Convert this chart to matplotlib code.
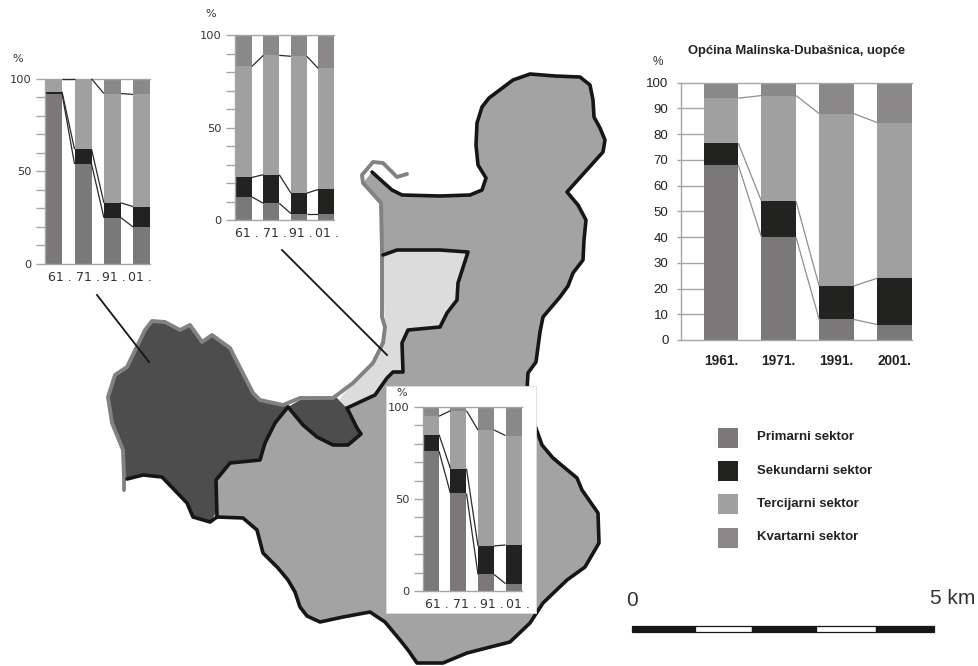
import matplotlib
matplotlib.use('Agg')
import matplotlib.pyplot as plt
from matplotlib.patches import Polygon, Rectangle

W, H = 979, 666

# chart data: top of each stacked band, in percent
years_short = ['61', '71', '91', '01']
years_long = ['1961.', '1971.', '1991.', '2001.']
sector_names = ['Primarni sektor', 'Sekundarni sektor', 'Tercijarni sektor', 'Kvartarni sektor']

total_primary = [68, 40, 8, 6]
total_secondary = [76.5, 54, 21, 24]
total_tertiary = [94, 95, 88, 84.5]

west_primary = [92, 54, 25, 20]
west_secondary = [93, 62, 33, 31]
west_tertiary = [100, 100, 92, 91.5]

mid_primary = [12.5, 9, 3.5, 3.5]
mid_secondary = [23, 24.5, 14.5, 16.5]
mid_tertiary = [83, 89, 88.5, 82]

east_primary = [76, 53, 9, 4]
east_secondary = [85, 66.5, 24.5, 25]
east_tertiary = [95, 98, 87.5, 84.5]

colors = ['#7a7878', '#222220', '#a0a0a0', '#8a8888']

# map outlines, traced in image pixels
north_coast = [(372, 172), (383, 182), (392, 190), (402, 195), (440, 196), (470, 195), (482, 190),
               (486, 178), (478, 165), (476, 145), (477, 123), (482, 107), (489, 98), (497, 92),
               (513, 80), (530, 74), (555, 76), (580, 77), (590, 85), (593, 100), (594, 117),
               (600, 128), (605, 140), (603, 152), (585, 172), (567, 192), (578, 205), (586, 220),
               (584, 240), (583, 260), (573, 273), (568, 286), (560, 297), (543, 317), (540, 332),
               (536, 362), (528, 373), (527, 390), (533, 420), (542, 445), (553, 458), (577, 478),
               (582, 490), (598, 513), (599, 543), (585, 567), (567, 580), (543, 603), (530, 623),
               (510, 642), (467, 653), (443, 663), (417, 663), (408, 650), (400, 640), (385, 622),
               (370, 612), (343, 617), (320, 622), (307, 616), (300, 607), (295, 592), (288, 580),
               (278, 568), (263, 553), (257, 530), (243, 518), (217, 517)]
west_boundary = [(217, 517), (216, 480), (230, 463), (260, 460), (265, 443), (275, 423), (288, 407)]
patch_boundary = [(288, 407), (303, 425), (317, 437), (333, 445), (348, 445), (361, 434), (357, 428),
                  (347, 408)]
light_boundary = [(347, 408), (375, 395), (387, 378), (393, 372), (403, 372), (402, 343), (408, 330),
                  (440, 327), (447, 313), (457, 300), (458, 283), (468, 252), (440, 250), (397, 250),
                  (383, 255)]
west_land = [(124, 477), (123, 450), (112, 423), (108, 397), (115, 375), (127, 367), (145, 330),
             (152, 321), (165, 322), (180, 330), (190, 325), (195, 332), (202, 342), (212, 335),
             (230, 348), (253, 393), (260, 400), (283, 405), (288, 407), (275, 423), (265, 443),
             (260, 460), (230, 463), (216, 480), (216, 513), (210, 522), (193, 517), (187, 503),
             (162, 477), (143, 475), (127, 479)]
west_south_coast = [(127, 479), (143, 475), (162, 477), (187, 503), (193, 517), (210, 522), (217, 517)]
patch_land = [(288, 407), (300, 400), (337, 398), (347, 408), (357, 428), (361, 434), (348, 445),
              (333, 445), (317, 437), (303, 425)]
light_land = [(339, 400), (353, 383), (373, 363), (385, 330), (382, 255), (397, 250), (440, 250),
              (468, 252), (458, 283), (457, 300), (447, 313), (440, 327), (408, 330), (402, 343),
              (403, 372), (393, 372), (387, 378), (375, 395), (347, 408)]
grey_coast = [(124, 490), (124, 477), (123, 450), (112, 423), (108, 397), (115, 375), (127, 367),
              (145, 330), (152, 321), (165, 322), (180, 330), (190, 325), (195, 332), (202, 342),
              (212, 335), (230, 348), (253, 393), (260, 400), (283, 405), (300, 398), (333, 398),
              (353, 383), (373, 363), (383, 343), (385, 327), (382, 317), (382, 250), (381, 203),
              (363, 183), (362, 175), (373, 162), (383, 163), (397, 177), (407, 174)]
leader_lines = [[(97, 295), (149, 362)], [(282, 250), (387, 355)]]
scale_edges = [632, 695, 752, 816, 876, 934]


def add_chart(fig, left, right, y100, y0, centers, bar_w, prim, sec, ter, labels, label_px=None):
    """stacked bars on their own axes, placed by image pixels"""
    big = label_px is None
    ax = fig.add_axes([left / W, 1 - y0 / H, (right - left) / W, (y0 - y100) / H])
    ax.patch.set_alpha(0)
    pitch = (centers[1] - centers[0]) / 1.0
    xs = [(c - centers[0]) / pitch for c in centers]
    w = bar_w / pitch
    ax.set_xlim((left - centers[0]) / pitch, (right - centers[0]) / pitch)
    ax.set_ylim(0, 100)

    bottoms = [0, 0, 0, 0]
    bands = [prim, sec, ter, [100, 100, 100, 100]]
    for band, col in zip(bands, colors):
        ax.bar(xs, [b - a for a, b in zip(bottoms, band)], w, bottom=bottoms, color=col, linewidth=0, zorder=2)
        bottoms = band

    # connectors between neighbouring bars
    line_col = '#8f8f8f' if big else '#2a2a2a'
    for band in bands[:3]:
        for i in range(3):
            ax.plot([xs[i] + w / 2, xs[i + 1] - w / 2], [band[i], band[i + 1]],
                    color=line_col, lw=0.9, zorder=3, solid_capstyle='butt', clip_on=False)

    for side in ['right']:
        ax.spines[side].set_visible(False)
    for side in ['left', 'top', 'bottom']:
        ax.spines[side].set_color('#a5a5a5')
        ax.spines[side].set_linewidth(1.0)

    if big:
        ax.set_yticks(range(0, 101, 10))
        ax.tick_params(axis='y', length=3, width=1, color='#a5a5a5', pad=6, labelsize=9.5, labelcolor='#222222')
        ax.hlines(range(10, 100, 10), ax.get_xlim()[0], xs[0] - w / 2, color='#a5a5a5', lw=1, zorder=1)
        ax.set_xticks(xs, labels)
        ax.tick_params(axis='x', length=0, pad=10, labelsize=9.8, labelcolor='#222222')
        for t in ax.get_xticklabels() + ax.get_yticklabels():
            t.set_family('Liberation Sans')
        for t in ax.get_xticklabels():
            t.set_fontweight('bold')
    else:
        ax.set_yticks(range(0, 101, 10), [str(v) if v % 50 == 0 else '' for v in range(0, 101, 10)])
        ax.tick_params(axis='y', length=6.5, width=1, color='#a5a5a5', pad=3, labelsize=8.2, labelcolor='#333333')
        ax.set_xticks([(px - centers[0]) / pitch for px in label_px], [s + ' .' for s in labels])
        ax.tick_params(axis='x', length=0, pad=5, labelsize=9, labelcolor='#333333')
        for t in ax.get_xticklabels():
            t.set_ha('left')
    return ax


fig = plt.figure(figsize=(W / 100, H / 100), dpi=100, facecolor='white')
base = fig.add_axes([0, 0, 1, 1])
base.set_xlim(0, W)
base.set_ylim(H, 0)
base.axis('off')

# map fills
main_land = north_coast + west_boundary[1:] + patch_boundary[1:] + light_boundary[1:] + [(381, 203), (363, 183)]
base.add_patch(Polygon(main_land, closed=True, fc='#a3a3a3', ec='none', zorder=1))
base.add_patch(Polygon(west_land, closed=True, fc='#4d4d4d', ec='none', zorder=1))
base.add_patch(Polygon(patch_land, closed=True, fc='#4d4d4d', ec='none', zorder=1))
base.add_patch(Polygon(light_land, closed=True, fc='#dcdcdc', ec='none', zorder=1))

# coast and borders
for path, col, lw, z in [(grey_coast, '#828282', 2.8, 2),
                         (north_coast, '#161616', 2.6, 3),
                         (west_boundary, '#161616', 2.6, 3),
                         (west_south_coast, '#161616', 2.6, 3),
                         (patch_boundary, '#161616', 2.6, 3),
                         (light_boundary, '#161616', 2.6, 3)]:
    base.plot([p[0] for p in path], [p[1] for p in path], color=col, lw=lw, zorder=z,
              solid_joinstyle='round', solid_capstyle='round')
for seg in leader_lines:
    base.plot([p[0] for p in seg], [p[1] for p in seg], color='#161616', lw=1.3, zorder=4)

# white card behind the third small chart
base.add_patch(Rectangle((386, 386), 150, 227, fc='white', ec='#dddddd', lw=0.6, zorder=5))

# legend
for name, col, y in zip(sector_names, colors, [438, 471, 504, 537.5]):
    base.add_patch(Rectangle((718, y - 10), 20, 20, fc=col, ec='none', zorder=2))
    base.text(757, y - 0.5, name, family='Liberation Sans', fontweight='bold', fontsize=9.5,
              color='#222222', va='center', ha='left')

# scale bar
for i in range(5):
    base.add_patch(Rectangle((scale_edges[i], 626), scale_edges[i + 1] - scale_edges[i], 5.5,
                             fc='#161616' if i % 2 == 0 else 'white', ec='#161616', lw=0.9, zorder=2))
base.text(632, 600, '0', family='Liberation Sans', fontsize=15, color='#333333', ha='center', va='center')
base.text(953, 598, '5 km', family='Liberation Sans', fontsize=15, color='#333333', ha='center', va='center')

base.text(797, 51, 'Općina Malinska-Dubašnica, uopće', family='Liberation Sans', fontweight='bold',
          fontsize=9.4, color='#222222', ha='center', va='center')
for x, y, size, fam in [(658, 62, 8.5, 'Liberation Sans'), (18, 59, 8, 'DejaVu Sans'),
                        (211, 14, 8, 'DejaVu Sans'), (402, 393, 8, 'DejaVu Sans')]:
    base.text(x, y, '%', family=fam, fontsize=size, color='#333333', ha='center', va='center', zorder=6)

add_chart(fig, 681, 912, 82.7, 340, [721, 778.7, 836.4, 894.5], 34.5,
          total_primary, total_secondary, total_tertiary, years_long)
add_chart(fig, 45, 150, 78.7, 264, [53.5, 83, 112.4, 141.5], 17,
          west_primary, west_secondary, west_tertiary, years_short, label_px=[48, 76, 102, 128])
add_chart(fig, 235, 334, 35, 220, [243, 270.7, 298.5, 326], 16,
          mid_primary, mid_secondary, mid_tertiary, years_short, label_px=[234, 262, 289, 315])
add_chart(fig, 423, 522, 407, 591, [431, 458.5, 486, 513.5], 16,
          east_primary, east_secondary, east_tertiary, years_short, label_px=[425, 453, 480, 506])

plt.savefig('out.png', dpi=100)
plt.close()
